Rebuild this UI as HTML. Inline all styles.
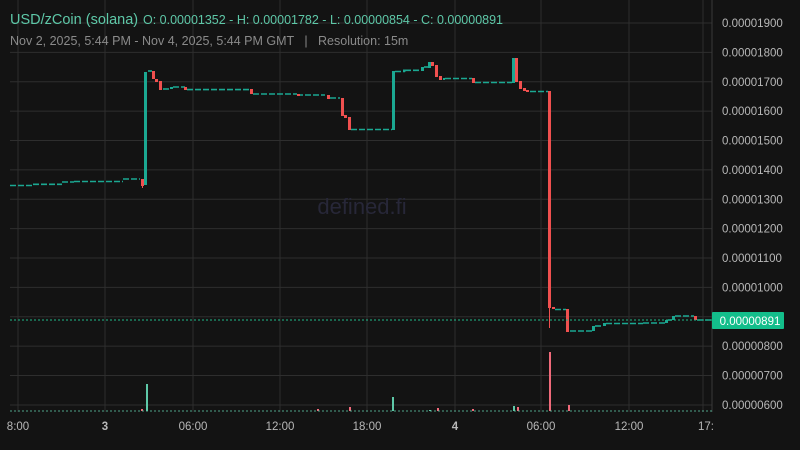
<!DOCTYPE html>
<html><head><meta charset="utf-8"><style>
body{margin:0;background:#131313;width:800px;height:450px;overflow:hidden;font-family:"Liberation Sans",sans-serif}
svg{display:block}
</style></head><body>
<svg width="800" height="450" xmlns="http://www.w3.org/2000/svg" id="s">
<rect width="800" height="450" fill="#131313"/>
<g id="grid" stroke="#2e2e2e" stroke-width="1"></g>
<text x="362" y="214" font-size="22" fill="#272738" text-anchor="middle" font-family="Liberation Sans, sans-serif">defined.fi</text>
<g id="c"></g>
<line x1="712" y1="0" x2="712" y2="412" stroke="#3a3a3a"/>
<line x1="10" y1="320" x2="712" y2="320" stroke="#1fb98a" stroke-dasharray="2 2"/>
<line x1="10" y1="411" x2="712" y2="411" stroke="#5ec8a8" stroke-dasharray="2 2" opacity="0.8"/>
<g id="ax" font-size="11.5" fill="#b8b8b8"></g>
<rect x="712" y="312" width="72" height="17" rx="1" fill="#13be8b"/>
<text x="750" y="325" font-size="11.5" fill="#fff" text-anchor="middle">0.00000891</text>
<text x="10" y="24" font-size="14.5" fill="#5ec8a8">USD/zCoin (solana)</text>
<text x="143" y="24" font-size="12.5" fill="#5ec8a8">O: 0.00001352 - H: 0.00001782 - L: 0.00000854 - C: 0.00000891</text>
<text x="10" y="45" font-size="12.5" fill="#8a8a8a">Nov 2, 2025, 5:44 PM - Nov 4, 2025, 5:44 PM GMT &#160;&#160;|&#160;&#160; Resolution: 15m</text>
</svg>
<script>
var NS="http://www.w3.org/2000/svg",g=document.getElementById('grid'),c=document.getElementById('c'),ax=document.getElementById('ax');
function el(p,t,a,txt){var e=document.createElementNS(NS,t);for(var k in a)e.setAttribute(k,a[k]);if(txt)e.textContent=txt;p.appendChild(e);return e;}
function Y(v){return 23+(1900-v)*0.2938;}
for(var v=600;v<=1900;v+=100){var y=Y(v);el(g,'line',{x1:10,x2:712,y1:y,y2:y});if(v!=900)el(ax,'text',{x:722,y:y+4},'0.0000'+(v<1000?'0':'')+v);}
var xs=[18,105,193,280,367,455,541,629,703],lb=['8:00','3','06:00','12:00','18:00','4','06:00','12:00','17:'];
xs.forEach(function(x,i){el(g,'line',{x1:x,x2:x,y1:0,y2:412});var t=el(ax,'text',{x:x+(i==8?3:0),y:430,'text-anchor':'middle'},lb[i]);if(i==1||i==5)t.setAttribute('font-weight','bold');});
var G='#1ba892',R='#f0504f';
[[10,33,185.5],[33,62,184.3],[62,74,182],[74,123,181.5],[123,140,179],[148,152,71],[163,170,89],[173,185,87],[187,250,89.6],[253,297,94],[297,325,95],[330,340,98],[351,392,129.5],[395,405,71.5],[405,421,70.3],[424,428,67],[445,472,78.5],[475,512,82.5],[530,548,91.5],[555,566,309.5],[570,592,331],[595,603,326],[606,643,323.5],[643,665,323],[668,672,320],[675,694,316],[697,712,320]].forEach(function(f){el(c,'line',{x1:f[0],x2:f[1],y1:f[2],y2:f[2],stroke:G,'stroke-width':1.6,'stroke-dasharray':'6 2'});});
[[141,3,179,186,R],[144,3,72,185,G],[152,3,71,79,R],[155,3,79,82,R],[159,3,81,90,R],[170,3,87,89,G],[184,3,87,90,R],[250,3,89,94,R],[297,3,94,96,R],[327,3,95,99,R],[341,3,98,116,R],[344,3,115,118,R],[348,3,117,130,R],[392,3,71,130,G],[403,3,69.5,71.5,G],[421,3,67,71,G],[428,3,62,68,G],[431,3,62,66,R],[435,3,65,77,R],[439,3,76,80,R],[443,2,78,80,G],[472,3,78,83,R],[512,3,58,83,G],[515,3,58,82,R],[519,3,81,89,R],[523,3,88,91,R],[526,3,90,92,R],[548,3,91,308,R],[552,3,307,309,R],[566,3,309,332,R],[592,3,326,331,G],[603,3,323,326,G],[665,3,320,323,G],[672,3,316,320,G],[694,3,316,320,R]].forEach(function(k){el(c,'rect',{x:k[0],y:k[2],width:k[1],height:k[3]-k[2],fill:k[4]});});
el(c,'line',{x1:549.5,x2:549.5,y1:308,y2:328,stroke:R});
el(c,'line',{x1:142.5,x2:142.5,y1:186,y2:188,stroke:R});
[[146,384,'#5ec8a8'],[392,397,'#5ec8a8'],[549,352,'#f06a7a'],[349,407,'#f06a7a'],[317,409,'#f06a7a'],[437,408,'#f06a7a'],[429,410,'#5ec8a8'],[472,409,'#f06a7a'],[513,406,'#5ec8a8'],[517,407,'#f06a7a'],[568,405,'#f06a7a'],[141,409,'#f06a7a']].forEach(function(v){el(c,'rect',{x:v[0],y:v[1],width:2,height:411-v[1],fill:v[2]});});
</script>
</body></html>
